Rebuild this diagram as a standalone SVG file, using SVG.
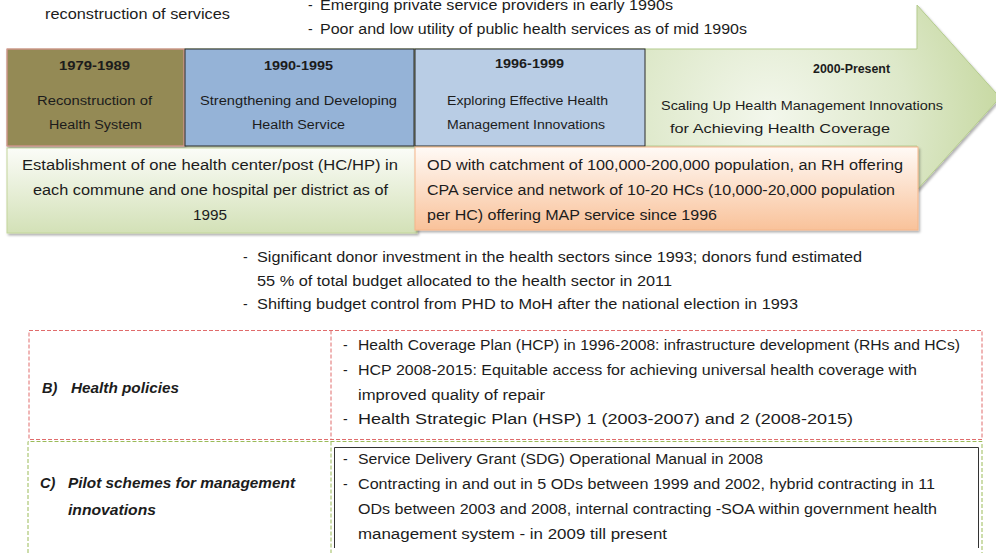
<svg xmlns="http://www.w3.org/2000/svg" width="996" height="553" viewBox="0 0 996 553" xml:space="preserve">
<defs>
<style>
text{font-family:"Liberation Sans",Arial,sans-serif;fill:#1c1c1c;}
.t{font-size:14px;}
.bx{font-size:12.5px;}
.yr{font-size:12px;font-weight:bold;}
.lb{font-size:14.5px;font-weight:bold;font-style:italic;}
.red{fill:none;stroke:#e06c6c;stroke-width:1;stroke-dasharray:4 2;}
.grn{fill:none;stroke:#9bbb59;stroke-width:1;stroke-dasharray:4 2;}
</style>
<filter id="sh" x="-5%" y="-10%" width="112%" height="130%">
<feDropShadow dx="1.5" dy="2" stdDeviation="1.2" flood-color="#000" flood-opacity="0.3"/>
</filter>
<radialGradient id="arrowG" gradientUnits="userSpaceOnUse" cx="770" cy="118" r="250">
<stop offset="0" stop-color="#f3f7ec"/>
<stop offset="0.55" stop-color="#dde8c9"/>
<stop offset="1" stop-color="#c3d69b"/>
</radialGradient>
<linearGradient id="greenG" x1="0" y1="0" x2="0" y2="1">
<stop offset="0" stop-color="#fbfcf8"/>
<stop offset="1" stop-color="#d3e1b7"/>
</linearGradient>
<linearGradient id="orangeG" x1="0" y1="0" x2="0" y2="1">
<stop offset="0" stop-color="#fffaf6"/>
<stop offset="1" stop-color="#f9c29a"/>
</linearGradient>
</defs>
<rect width="996" height="553" fill="#ffffff"/>

<g id="notes-top">
<text class="t" x="45" y="19" textLength="185" lengthAdjust="spacingAndGlyphs">reconstruction of services</text>
<text class="t" x="308" y="10">-</text>
<text class="t" x="320" y="10" textLength="353" lengthAdjust="spacingAndGlyphs">Emerging  private service providers in early 1990s</text>
<text class="t" x="308" y="34">-</text>
<text class="t" x="320" y="34" textLength="427" lengthAdjust="spacingAndGlyphs">Poor and low utility of public health services as of mid 1990s</text>
</g>

<g id="arrow">
<polygon points="7,49 917,49 917,5 1000,97.5 917,190 917,146 7,146" fill="url(#arrowG)" stroke="#b5cc8e" stroke-width="1" filter="url(#sh)"/>
</g>

<g id="phase-1979">
<rect x="7" y="49" width="177" height="97" fill="#948a54" stroke="#d99694" stroke-width="1.2" filter="url(#sh)"/>
<text class="yr" x="59" y="70" textLength="71" lengthAdjust="spacingAndGlyphs">1979-1989</text>
<text class="bx" x="37" y="105" textLength="115" lengthAdjust="spacingAndGlyphs">Reconstruction of</text>
<text class="bx" x="49" y="129" textLength="93" lengthAdjust="spacingAndGlyphs">Health System</text>
</g>

<g id="phase-1990">
<rect x="185" y="49" width="229" height="97" fill="#95b3d7" stroke="#2b2b2b" stroke-width="1"/>
<text class="yr" x="264" y="70" textLength="69" lengthAdjust="spacingAndGlyphs">1990-1995</text>
<text class="bx" x="200" y="105" textLength="197" lengthAdjust="spacingAndGlyphs">Strengthening and Developing</text>
<text class="bx" x="252" y="129" textLength="93" lengthAdjust="spacingAndGlyphs">Health Service</text>
</g>

<g id="phase-1996">
<rect x="415" y="49" width="230" height="97" fill="#b9cde5" stroke="#2b2b2b" stroke-width="1"/>
<text class="yr" x="495" y="68" textLength="69" lengthAdjust="spacingAndGlyphs">1996-1999</text>
<text class="bx" x="447" y="105" textLength="161" lengthAdjust="spacingAndGlyphs">Exploring Effective Health</text>
<text class="bx" x="447" y="129" textLength="158" lengthAdjust="spacingAndGlyphs">Management Innovations</text>
</g>

<g id="phase-2000">
<text class="yr" x="813" y="73" textLength="77" lengthAdjust="spacingAndGlyphs">2000-Present</text>
<text class="bx" x="661" y="110" textLength="282" lengthAdjust="spacingAndGlyphs">Scaling Up Health Management Innovations</text>
<text class="bx" x="670" y="133" textLength="220" lengthAdjust="spacingAndGlyphs">for Achieving Health Coverage</text>
</g>

<g id="hc-network">
<rect x="7" y="148" width="410" height="85" fill="url(#greenG)" stroke="#c3d69b" stroke-width="1" filter="url(#sh)"/>
<text class="t" x="22" y="170" textLength="376" lengthAdjust="spacingAndGlyphs">Establishment of one health center/post (HC/HP) in</text>
<text class="t" x="33" y="195" textLength="355" lengthAdjust="spacingAndGlyphs">each commune and one hospital per district as of</text>
<text class="t" x="193" y="220" textLength="34" lengthAdjust="spacingAndGlyphs">1995</text>
</g>

<g id="od-network">
<rect x="415" y="147" width="503" height="83" fill="url(#orangeG)" stroke="#f5b68a" stroke-width="1" filter="url(#sh)"/>
<text class="t" x="427" y="170" textLength="476" lengthAdjust="spacingAndGlyphs">OD with catchment of 100,000-200,000  population, an RH offering</text>
<text class="t" x="427" y="195" textLength="468" lengthAdjust="spacingAndGlyphs">CPA service and network of 10-20 HCs (10,000-20,000  population</text>
<text class="t" x="427" y="220" textLength="290" lengthAdjust="spacingAndGlyphs">per HC) offering MAP service  since 1996</text>
</g>

<g id="notes-mid">
<text class="t" x="243" y="262">-</text>
<text class="t" x="257" y="262" textLength="605" lengthAdjust="spacingAndGlyphs">Significant donor investment in the health sectors since 1993;  donors fund estimated</text>
<text class="t" x="257" y="286" textLength="415" lengthAdjust="spacingAndGlyphs">55 % of total budget allocated to the health sector in 2011</text>
<text class="t" x="243" y="309">-</text>
<text class="t" x="257" y="309" textLength="541" lengthAdjust="spacingAndGlyphs">Shifting budget control from PHD to MoH after the national election in 1993</text>
</g>

<g id="health-policies">
<rect class="red" x="29" y="330.5" width="953" height="109"/>
<line class="red" x1="331" y1="330.5" x2="331" y2="439.5"/>
<text class="lb" x="42" y="393">B)</text>
<text class="lb" x="71" y="393" textLength="108" lengthAdjust="spacingAndGlyphs">Health policies</text>
<text class="t" x="343" y="350">-</text>
<text class="t" x="358" y="350" textLength="602" lengthAdjust="spacingAndGlyphs">Health Coverage Plan (HCP) in 1996-2008:  infrastructure development (RHs and HCs)</text>
<text class="t" x="343" y="375">-</text>
<text class="t" x="358" y="375" textLength="559" lengthAdjust="spacingAndGlyphs">HCP 2008-2015:  Equitable access for achieving universal health coverage with</text>
<text class="t" x="358" y="400" textLength="187" lengthAdjust="spacingAndGlyphs">improved quality of repair</text>
<text class="t" x="343" y="424">-</text>
<text class="t" x="358" y="424" textLength="495" lengthAdjust="spacingAndGlyphs">Health Strategic Plan (HSP) 1 (2003-2007)  and 2 (2008-2015)</text>
</g>

<g id="pilot-schemes">
<path class="grn" d="M28,553 V441.5 H982 V553"/>
<line class="grn" x1="331" y1="441.5" x2="331" y2="553"/>
<path d="M334.5,548 V447.5 H978.5 V548" fill="none" stroke="#333333" stroke-width="1"/>
<text class="lb" x="40" y="488">C)</text>
<text class="lb" x="68" y="488" textLength="227" lengthAdjust="spacingAndGlyphs">Pilot schemes for management</text>
<text class="lb" x="68" y="515" textLength="88" lengthAdjust="spacingAndGlyphs">innovations</text>
<text class="t" x="343" y="464">-</text>
<text class="t" x="358" y="464" textLength="405" lengthAdjust="spacingAndGlyphs">Service Delivery Grant (SDG) Operational Manual in 2008</text>
<text class="t" x="343" y="489">-</text>
<text class="t" x="358" y="489" textLength="577" lengthAdjust="spacingAndGlyphs">Contracting in and out in 5 ODs between 1999 and 2002,  hybrid contracting in 11</text>
<text class="t" x="358" y="514" textLength="579" lengthAdjust="spacingAndGlyphs">ODs between 2003 and 2008,  internal contracting -SOA within government health</text>
<text class="t" x="358" y="539" textLength="309" lengthAdjust="spacingAndGlyphs">management system - in 2009 till present</text>
</g>

<g id="connectors"></g>
</svg>
